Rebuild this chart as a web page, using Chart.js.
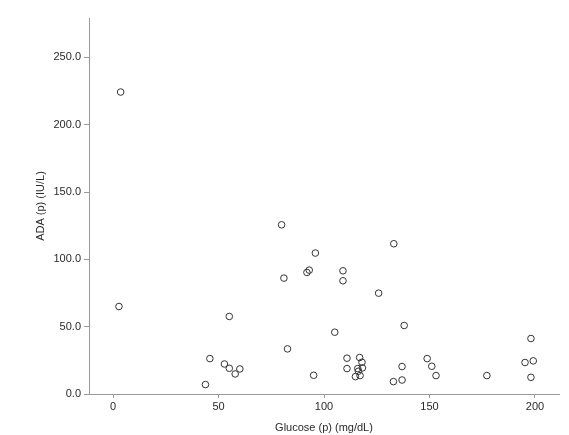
<!DOCTYPE html>
<html>
<head>
<meta charset="utf-8">
<script src="https://cdn.jsdelivr.net/npm/chart.js@4/dist/chart.umd.min.js"></script>
<style>
  html, body { margin: 0; padding: 0; background: #fff; }
  #wrap { width: 569px; height: 435px; }
</style>
</head>
<body>
<div id="wrap"><canvas id="chart" width="569" height="435"></canvas></div>
<script>
// Glucose (p) values, mg/dL
const glucose = [
    3.6, 2.8,
    79.9, 133.1, 95.9, 93.0, 91.9, 109.0, 109.0, 81.0, 125.9,
    55.1, 82.7, 45.9, 52.8, 55.1, 60.1, 57.9, 95.1, 43.8,
    105.1, 138.0, 110.9, 116.9, 118.0, 110.9, 116.0, 118.2, 116.3, 114.9, 117.1,
    137.0, 132.9, 137.0, 148.9, 151.1, 153.1,
    177.2, 198.1, 195.3, 199.2, 198.1
];
// ADA (p) values, IU/L
const ada = [
    224.3, 65.0,
    125.7, 111.6, 104.7, 92.0, 90.3, 91.5, 84.1, 86.1, 74.9,
    57.6, 33.5, 26.3, 22.3, 19.1, 18.6, 14.9, 13.9, 7.0,
    45.9, 50.9, 26.6, 27.1, 23.6, 18.9, 18.9, 19.4, 16.9, 12.9, 13.7,
    20.4, 9.2, 10.4, 26.3, 20.6, 13.7,
    13.7, 41.2, 23.4, 24.6, 12.4
];
const xTicks = [0, 50, 100, 150, 200];
const yTicks = [0, 50, 100, 150, 200, 250];

const points = glucose.map((g, i) => ({ x: g, y: ada[i] }));

const axisGray = '#9a9a9a';
const textCol = '#2a2a2a';
const font = { family: "'Liberation Sans', Arial, sans-serif", size: 11 };

new Chart(document.getElementById('chart'), {
    type: 'scatter',
    data: {
        datasets: [{
            data: points,
            pointRadius: 3.3,
            pointHoverRadius: 3.3,
            pointBorderWidth: 1,
            pointBorderColor: '#333333',
            pointBackgroundColor: 'rgba(0,0,0,0)'
        }]
    },
    options: {
        responsive: false,
        animation: false,
        events: [],
        layout: { padding: { top: 18, right: 10, left: 0, bottom: 0 } },
        plugins: { legend: { display: false }, tooltip: { enabled: false } },
        scales: {
            x: {
                type: 'linear',
                min: -11.4,
                max: 211.4,
                afterBuildTicks: (s) => { s.ticks = xTicks.map(v => ({ value: v })); },
                afterFit: (s) => { s.height = 41; },
                border: { color: axisGray, width: 1 },
                grid: { drawOnChartArea: false, drawTicks: true, tickLength: 4, color: axisGray },
                ticks: { color: textCol, font: font, padding: 2, maxRotation: 0 },
                title: { display: true, text: 'Glucose (p) (mg/dL)', color: textCol, font: font, padding: { top: 4, bottom: 0 } }
            },
            y: {
                type: 'linear',
                min: 0,
                max: 279.3,
                afterBuildTicks: (s) => { s.ticks = yTicks.map(v => ({ value: v })); },
                afterFit: (s) => { s.width = 89; },
                border: { color: axisGray, width: 1 },
                grid: { drawOnChartArea: false, drawTicks: true, tickLength: 5, color: axisGray },
                ticks: { color: textCol, font: font, padding: 3, callback: (v) => v.toFixed(1) },
                title: { display: true, text: 'ADA (p) (IU/L)', color: textCol, font: font, padding: { top: 34, bottom: 0 } }
            }
        }
    }
});
</script>
</body>
</html>
